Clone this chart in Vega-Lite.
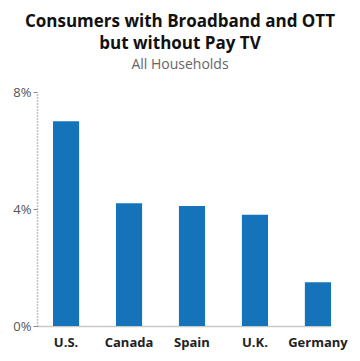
{
  "$schema": "https://vega.github.io/schema/vega-lite/v6.json",
  "autosize": "none",
  "padding": {"left": 37, "top": 92, "right": 29, "bottom": 35},
  "width": 294,
  "height": 234,
  "background": "white",
  "config": {"view": {"stroke": null}},
  "title": {
    "text": ["Consumers with Broadband and OTT", "but without Pay TV"],
    "subtitle": "All Households",
    "anchor": "middle",
    "frame": "group",
    "dx": -4,
    "offset": 13,
    "font": "Open Sans",
    "fontSize": 17,
    "fontWeight": "bold",
    "color": "#111111",
    "lineHeight": 22,
    "subtitleFont": "Open Sans",
    "subtitleFontSize": 14,
    "subtitleColor": "#666666",
    "subtitlePadding": 5
  },
  "data": {
    "values": [
      {"country": "U.S.", "share": 7.0},
      {"country": "Canada", "share": 4.2},
      {"country": "Spain", "share": 4.1},
      {"country": "U.K.", "share": 3.8},
      {"country": "Germany", "share": 1.5}
    ]
  },
  "mark": {"type": "bar", "color": "#1473b9"},
  "encoding": {
    "x": {
      "field": "country",
      "type": "nominal",
      "sort": null,
      "scale": {"paddingInner": 0.585, "paddingOuter": 0.127, "align": 1},
      "axis": {
        "title": null,
        "labelAngle": 0,
        "ticks": false,
        "domainColor": "#c8c8c8",
        "domainWidth": 1.5,
        "labelFont": "Open Sans",
        "labelFontSize": 13,
        "labelFontWeight": "bold",
        "labelColor": "#222222",
        "labelPadding": 10
      }
    },
    "y": {
      "field": "share",
      "type": "quantitative",
      "scale": {"domain": [0, 8]},
      "axis": {
        "title": null,
        "values": [0, 4, 8],
        "labelExpr": "datum.value + '%'",
        "grid": false,
        "domainColor": "#888888",
        "domainDash": [1, 2],
        "domainWidth": 1.5,
        "tickColor": "#888888",
        "tickSize": 4,
        "labelFont": "Open Sans",
        "labelFontSize": 13,
        "labelColor": "#555555",
        "labelPadding": 2
      }
    }
  }
}
